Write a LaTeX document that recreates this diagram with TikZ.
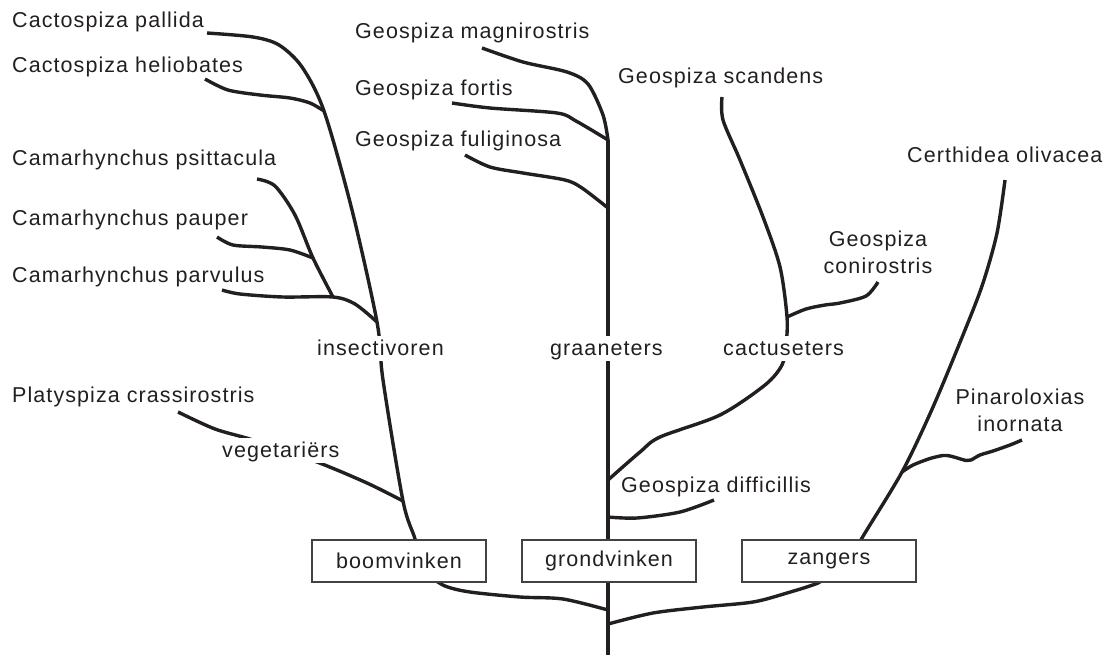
\documentclass[tikz,border=0pt]{standalone}
\usepackage{fontspec}
\setmainfont{Liberation Sans}[LetterSpace=5]
\usetikzlibrary{backgrounds}
\definecolor{ink}{RGB}{35,31,32}
\tikzset{
  lbl/.style={anchor=base west, inner sep=0pt, text=ink, font=\fontsize{21.5}{27}\selectfont},
  grp/.style={lbl, fill=white, inner xsep=1pt, inner ysep=2pt, text height=17pt, text depth=4pt},
  two/.style={anchor=center, align=center, inner sep=0pt, text=ink, font=\fontsize{21.5}{27}\selectfont},
  boxed/.style={draw=ink!85, line width=1.2pt, fill=white, minimum width=174pt, minimum height=42pt, inner sep=0pt, text=ink, font=\fontsize{21.5}{27}\selectfont},
  branch/.style={draw=ink, line width=3.4pt, line join=round},
  sm/.style={smooth, tension=0.5},
}
\begin{document}
\begin{tikzpicture}[x=1pt, y=-1pt]
\useasboundingbox (0,0) rectangle (1118,657);
% labels
\node[lbl] (pal) at (12,27) {Cactospiza pallida};
\node[lbl] (hel) at (12,72) {Cactospiza heliobates};
\node[lbl] (psi) at (12,165) {Camarhynchus psittacula};
\node[lbl] (pau) at (12,225) {Camarhynchus pauper};
\node[lbl] (par) at (12,282) {Camarhynchus parvulus};
\node[lbl] (pla) at (12,402) {Platyspiza crassirostris};
\node[grp] (ins) at (316,355) {insectivoren};
\node[grp] (veg) at (221,457) {vegetariërs};
\node[lbl] (mag) at (355,38) {Geospiza magnirostris};
\node[lbl] (for) at (355,95) {Geospiza fortis};
\node[lbl] (ful) at (355,146) {Geospiza fuliginosa};
\node[lbl] (sca) at (618,83) {Geospiza scandens};
\node[lbl] (cer) at (907,162) {Certhidea olivacea};
\node[two] (con) at (878,252) {Geospiza\\conirostris};
\node[grp] (gra) at (549,355) {graaneters};
\node[grp] (cac) at (722,355) {cactuseters};
\node[lbl] (dif) at (621,492) {Geospiza difficillis};
\node[two] (pin) at (1020,410) {Pinaroloxias\\inornata};
% boxes
\node[boxed] (boom) at (399,561) {boomvinken};
\node[boxed] (grond) at (609,561) {grondvinken};
\node[boxed] (zang) at (829,561) {zangers};
% coordinates
\coordinate (trunkTop) at (608,140);
\coordinate (trunkBot) at (608,655);
\coordinate (jFul) at (608,208);
\coordinate (jCac) at (608,480);
\coordinate (jDif) at (608,517);
\coordinate (jBoom) at (608,610);
\coordinate (jZang) at (608,624);
\coordinate (ePal) at (207,33);
\coordinate (eHel) at (205,79);
\coordinate (jHel) at (324,111);
\coordinate (ePsi) at (257,179);
\coordinate (ePau) at (217,237);
\coordinate (jPau) at (313,258);
\coordinate (ePar) at (222,290);
\coordinate (jPsi) at (333,297);
\coordinate (jParv) at (377,322);
\coordinate (ePla) at (178,412);
\coordinate (jVeg) at (403,501);
\coordinate (boomIn) at (420,565);
\coordinate (boomOut) at (428,575);
\coordinate (eMag) at (482,48);
\coordinate (eFor) at (452,103);
\coordinate (eFul) at (465,155);
\coordinate (eSca) at (722,97);
\coordinate (eCon) at (878,282);
\coordinate (jCon) at (787,317);
\coordinate (eDif) at (714,500);
\coordinate (eCer) at (1005,180);
\coordinate (ePin) at (1022,440);
\coordinate (jPin) at (902,472);
\coordinate (zangIn) at (848,565);
\coordinate (zangOut) at (828,575);
\begin{scope}[on background layer]
  \draw[branch] (trunkTop) -- (trunkBot);
  % boomvinken
  \draw[branch] plot[sm] coordinates {(ePal) (253,37) (279,45) (302,67) (jHel) (352,210) (jParv) (383,380) (jVeg) (415,539) (boomIn)};
  \draw[branch] plot[sm] coordinates {(eHel) (228,90) (260,95) (290,98) (310,103) (jHel)};
  \draw[branch] plot[sm] coordinates {(ePsi) (275,186) (295,215) (jPau) (jPsi)};
  \draw[branch] plot[sm] coordinates {(ePau) (233,245) (262,247) (290,250) (jPau)};
  \draw[branch] plot[sm] coordinates {(ePar) (240,294) (283,297) (jPsi) (355,304) (jParv)};
  \draw[branch] plot[sm] coordinates {(ePla) (215,429) (253,440) (317,462) (367,483) (jVeg)};
  \draw[branch] plot[sm] coordinates {(boomOut) (445,586) (470,592) (520,597) (563,599) (jBoom)};
  % grondvinken
  \draw[branch] plot[sm] coordinates {(eMag) (523,62) (567,72) (588,84) (603,115) (trunkTop)};
  \draw[branch] plot[sm] coordinates {(eFor) (490,108) (557,113) (576,121) (trunkTop)};
  \draw[branch] plot[sm] coordinates {(eFul) (490,167) (523,173) (565,180) (582,188) (jFul)};
  \draw[branch] plot[sm] coordinates {(eSca) (723,120) (740,160) (763,217) (780,267) (jCon) (786,345) (782,365) (765,385) (720,415) (660,437) (640,452) (jCac)};
  \draw[branch] plot[sm] coordinates {(eCon) (866,296) (840,303) (825,305) (806,309) (jCon)};
  \draw[branch] plot[sm] coordinates {(jDif) (637,518) (680,512) (eDif)};
  % zangers
  \draw[branch] plot[sm] coordinates {(eCer) (997,233) (983,283) (965,330) (933,407) (jPin) (862,538) (zangIn)};
  \draw[branch] plot[sm] coordinates {(ePin) (1010,445) (993,451) (980,455) (971,460) (966,460.5) (959,458.5) (950,456) (943,455.5) (930,458.5) (913,465) (jPin)};
  \draw[branch] plot[sm] coordinates {(zangOut) (818,583) (787,593) (753,602) (703,607) (653,613) (jZang)};
\end{scope}
\end{tikzpicture}
\end{document}
